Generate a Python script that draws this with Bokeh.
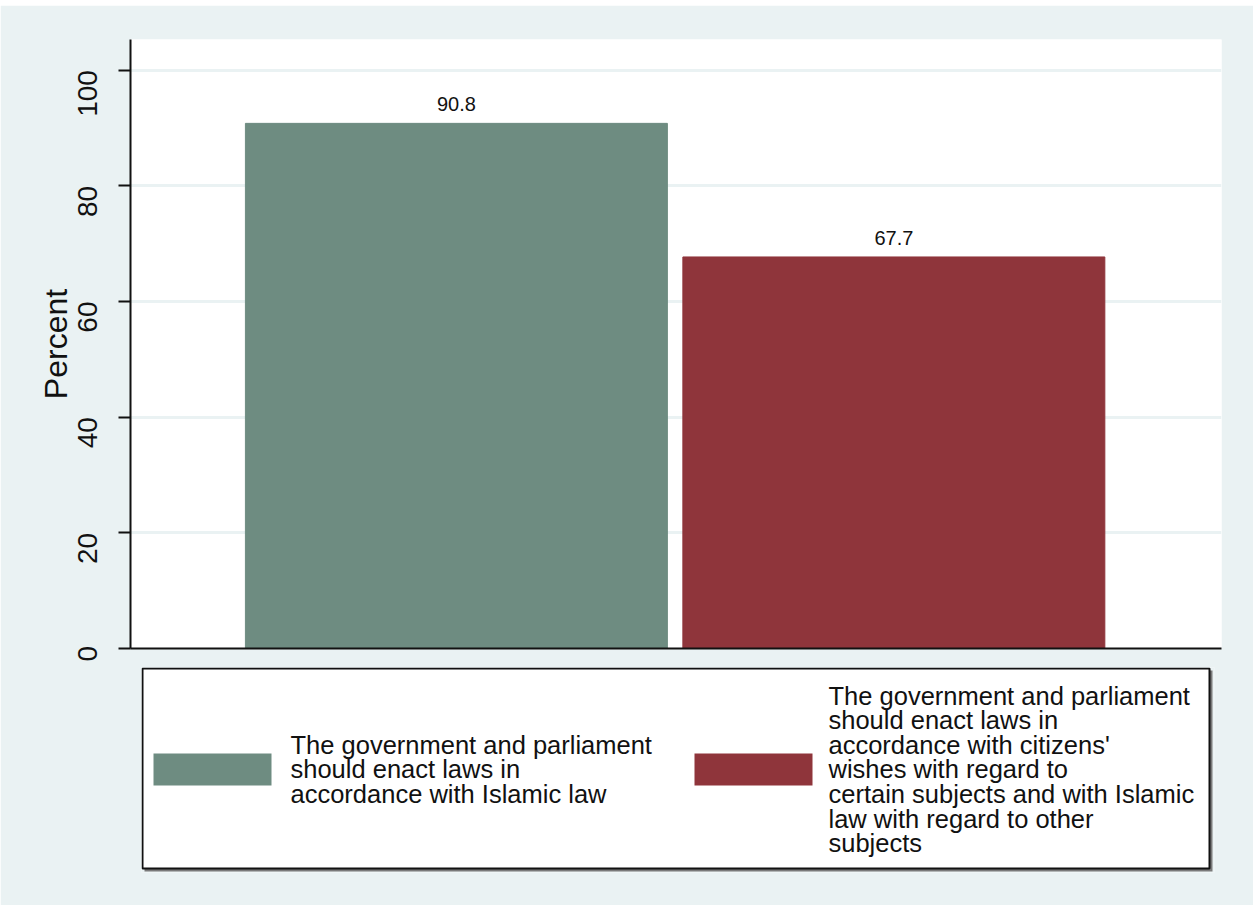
import math
from bokeh.plotting import figure
from bokeh.models import ColumnDataSource, FixedTicker, Range1d
from bokeh.core.properties import value
from bokeh.embed import file_html
from bokeh.resources import INLINE

# ---- data ----
categories = [
    "The government and parliament\nshould enact laws in\naccordance with Islamic law",
    "The government and parliament\nshould enact laws in\naccordance with citizens'\nwishes with regard to\ncertain subjects and with Islamic\nlaw with regard to other\nsubjects",
]
positions = [1, 2]
values = [90.8, 67.7]
value_labels = ["90.8", "67.7"]
colors = ["#6E8C81", "#8F353B"]
y_ticks = [0, 20, 40, 60, 80, 100]

FONT = "Liberation Sans"
BG = "#EAF2F3"
INK = "#111111"

# ---------------- main chart ----------------
p = figure(width=1253, height=656, output_backend="svg", toolbar_location=None,
           x_range=Range1d(0.255, 2.749), y_range=Range1d(0, 105.3),
           min_border_left=130, min_border_right=32, min_border_top=34,
           min_border_bottom=13)
p.margin = (5, 0, 0, 0)
p.border_fill_color = BG
p.background_fill_color = "white"
p.outline_line_color = None

for i in range(len(values)):
    src = ColumnDataSource(dict(x=[positions[i]], top=[values[i]], lab=[value_labels[i]]))
    p.vbar(x="x", top="top", width=0.9646, bottom=0, source=src,
           fill_color=colors[i], line_color=colors[i])
    p.text(x="x", y="top", text="lab", source=src, text_align="center",
           text_baseline="alphabetic", y_offset=-19,
           text_font=value(FONT), text_font_size="20px", text_color=INK)

yax = p.yaxis[0]
yax.ticker = FixedTicker(ticks=y_ticks)
yax.minor_tick_line_color = None
yax.major_tick_in = 0
yax.major_tick_out = 12
yax.major_tick_line_width = 2
yax.axis_line_width = 2
yax.axis_line_color = INK
yax.major_tick_line_color = INK
yax.major_label_orientation = math.pi / 2
yax.major_label_text_font = FONT
yax.major_label_text_font_size = "28px"
yax.major_label_text_color = INK
yax.major_label_standoff = 31
yax.axis_label = "Percent"
yax.axis_label_text_font = FONT
yax.axis_label_text_font_size = "32px"
yax.axis_label_text_font_style = "normal"
yax.axis_label_text_color = INK
yax.axis_label_standoff = -8

xax = p.xaxis[0]
xax.ticker = FixedTicker(ticks=[])
xax.major_tick_line_color = None
xax.minor_tick_line_color = None
xax.major_label_text_font_size = "0px"
xax.axis_line_width = 2
xax.axis_line_color = INK

p.xgrid.grid_line_color = None
p.ygrid.ticker = FixedTicker(ticks=y_ticks[1:])
p.ygrid.grid_line_color = BG
p.ygrid.grid_line_width = 3

# ---------------- legend panel (separate root, stacked below) ----------------
LW, LH = 1073, 205   # legend area incl. shadow (pixels)
lg = figure(width=1253, height=245, output_backend="svg", toolbar_location=None,
            x_range=Range1d(0, LW), y_range=Range1d(-LH, 0),
            min_border_left=141, min_border_right=39, min_border_top=7,
            min_border_bottom=33)
lg.margin = (-1, 0, 0, 0)
lg.axis.visible = False
lg.grid.visible = False
lg.outline_line_color = None
lg.border_fill_color = BG
lg.background_fill_color = BG

# shadow + box
lg.quad(left=[3], right=[1071], top=[-3], bottom=[-204], fill_color="#7A7A7A", line_color=None)
lg.quad(left=[1], right=[1068], top=[-1], bottom=[-201], fill_color="white",
        line_color=INK, line_width=2)
sw_left = [12, 553]
lab_left = [149, 687]
for i in range(len(categories)):
    lg.quad(left=[sw_left[i]], right=[sw_left[i] + 118], top=[-86], bottom=[-118],
            fill_color=colors[i], line_color=None)
    lg.text(x=[lab_left[i]], y=[-102], text=[categories[i]], text_font=value(FONT),
            text_font_size="25.5px", text_color=INK, text_baseline="middle",
            text_align="left", text_line_height=0.88)

open("out.html", "w").write(file_html([p, lg], INLINE))
